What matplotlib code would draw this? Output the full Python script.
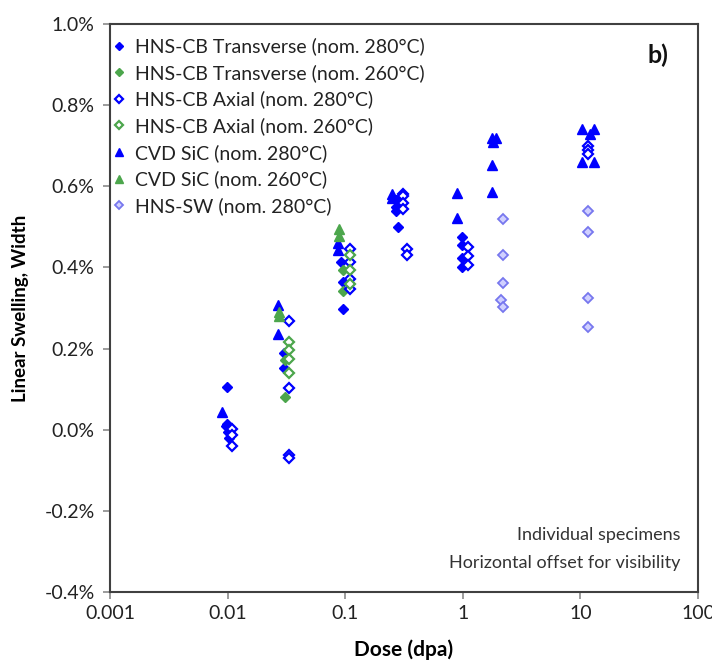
import matplotlib
matplotlib.use("Agg")
import matplotlib.pyplot as plt
from matplotlib.ticker import FixedLocator, FuncFormatter, NullLocator

plt.rcParams['font.family'] = ['Lato', 'DejaVu Sans']

BLUE = '#0000ff'
GREEN = '#4ca64c'
LAV_EDGE = '#7777ee'
LAV_FACE = '#d0d0ff'

# Dose (dpa) and linear swelling (%) for each specimen group
cbt280_x = [0.0098, 0.0098, 0.0097, 0.0100, 0.0102, 0.030, 0.030, 0.093, 0.095, 0.095,
            0.27, 0.27, 0.27, 0.28, 0.98, 0.98, 0.98, 0.98]
cbt280_y = [0.106, 0.015, 0.008, -0.005, -0.020, 0.190, 0.153, 0.414, 0.365, 0.298,
            0.565, 0.550, 0.540, 0.500, 0.476, 0.456, 0.424, 0.400]

cbt260_x = [0.031, 0.031, 0.095, 0.095]
cbt260_y = [0.172, 0.081, 0.394, 0.343]

cba280_x = [0.0109, 0.0109, 0.0109, 0.0333, 0.0333, 0.0333, 0.0333, 0.110, 0.110, 0.110, 0.110,
            0.31, 0.31, 0.31, 0.31, 0.336, 0.336, 1.107, 1.107, 1.107, 11.6, 11.6, 11.6]
cba280_y = [0.002, -0.012, -0.040, 0.269, 0.104, -0.062, -0.070, 0.446, 0.414, 0.372, 0.348,
            0.580, 0.575, 0.560, 0.545, 0.445, 0.430, 0.450, 0.427, 0.407, 0.700, 0.690, 0.680]

cba260_x = [0.0333, 0.0333, 0.0333, 0.0333, 0.110, 0.110, 0.110]
cba260_y = [0.217, 0.197, 0.175, 0.140, 0.430, 0.394, 0.360]

cvd280_x = [0.0090, 0.0268, 0.0268, 0.087, 0.087, 0.25, 0.25, 0.89, 0.89,
            1.77, 1.90, 1.80, 1.77, 1.77, 10.3, 13.1, 12.0, 10.3, 13.1]
cvd280_y = [0.044, 0.308, 0.237, 0.460, 0.443, 0.580, 0.570, 0.584, 0.523,
            0.720, 0.720, 0.710, 0.653, 0.587, 0.740, 0.740, 0.730, 0.660, 0.660]

cvd260_x = [0.0272, 0.0272, 0.088, 0.088]
cvd260_y = [0.290, 0.280, 0.495, 0.478]

sw280_x = [2.2, 2.2, 2.2, 2.1, 2.2, 11.6, 11.6, 11.6, 11.6]
sw280_y = [0.520, 0.431, 0.362, 0.320, 0.303, 0.540, 0.488, 0.325, 0.254]

x_ticks = [0.001, 0.01, 0.1, 1, 10, 100]
x_tick_labels = ['0.001', '0.01', '0.1', '1', '10', '100']
y_ticks = [-0.4, -0.2, 0.0, 0.2, 0.4, 0.6, 0.8, 1.0]

fig = plt.figure(figsize=(7.12, 6.64), dpi=100)
ax = fig.add_axes([0.1545, 0.1084, 0.8258, 0.8555])

ax.plot(cbt280_x, cbt280_y, ls='none', marker='D', ms=5.3, mfc=BLUE, mec=BLUE,
        label='HNS-CB Transverse (nom. 280°C)')
ax.plot(cbt260_x, cbt260_y, ls='none', marker='D', ms=5.3, mfc=GREEN, mec=GREEN,
        label='HNS-CB Transverse (nom. 260°C)')
ax.plot(cba280_x, cba280_y, ls='none', marker='D', ms=5.1, mfc='white', mec=BLUE, mew=1.6,
        label='HNS-CB Axial (nom. 280°C)')
ax.plot(cba260_x, cba260_y, ls='none', marker='D', ms=5.1, mfc='white', mec=GREEN, mew=1.6,
        label='HNS-CB Axial (nom. 260°C)')
ax.plot(cvd280_x, cvd280_y, ls='none', marker='^', ms=7.6, mfc=BLUE, mec=BLUE,
        label='CVD SiC (nom. 280°C)')
ax.plot(cvd260_x, cvd260_y, ls='none', marker='^', ms=7.6, mfc=GREEN, mec=GREEN,
        label='CVD SiC (nom. 260°C)')
ax.plot(sw280_x, sw280_y, ls='none', marker='D', ms=5.1, mfc=LAV_FACE, mec=LAV_EDGE, mew=1.3,
        label='HNS-SW (nom. 280°C)')

ax.set_xscale('log')
ax.set_xlim(0.001, 100)
ax.set_ylim(-0.4, 1.0)
ax.xaxis.set_major_locator(FixedLocator(x_ticks))
ax.xaxis.set_minor_locator(NullLocator())
ax.set_xticks(x_ticks)
ax.set_xticklabels(x_tick_labels)
ax.yaxis.set_major_locator(FixedLocator(y_ticks))
ax.yaxis.set_major_formatter(FuncFormatter(lambda v, p: f'{v:.1f}%'))

for s in ax.spines.values():
    s.set_color('#404040')
    s.set_linewidth(1.5)
ax.tick_params(axis='both', direction='out', length=5, width=1.2, color='#8a8a8a',
               labelsize=14, labelcolor='#222222')
ax.tick_params(axis='y', pad=6)
ax.tick_params(axis='x', pad=4)

ax.set_xlabel('Dose (dpa)', fontsize=15, fontweight='bold', labelpad=13)
ax.set_ylabel('Linear Swelling, Width', fontsize=13.5, fontweight='bold', labelpad=11)

leg = ax.legend(loc='upper left', frameon=False, fontsize=14, handletextpad=0.55,
                handlelength=0.6, borderaxespad=0.0, borderpad=0.4, labelspacing=0.45,
                markerscale=0.8, bbox_to_anchor=(-0.0085, 0.99))
for t in leg.get_texts():
    t.set_color('#222222')

ax.text(0.932, 0.945, 'b)', transform=ax.transAxes, fontsize=18, fontweight='bold',
        ha='center', va='center', color='#111111')
ax.text(0.97, 0.100, 'Individual specimens', transform=ax.transAxes, fontsize=13,
        ha='right', va='center', color='#333333')
ax.text(0.97, 0.051, 'Horizontal offset for visibility', transform=ax.transAxes, fontsize=13,
        ha='right', va='center', color='#333333')

fig.savefig('out.png', dpi=100)
